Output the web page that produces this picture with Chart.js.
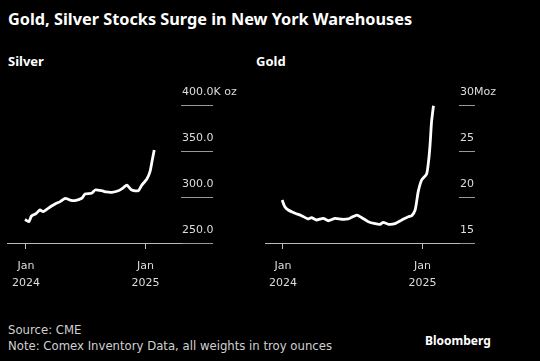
<!DOCTYPE html>
<html>
<head>
<meta charset="utf-8">
<script src="https://cdn.jsdelivr.net/npm/chart.js@4"></script>
<style>
  html, body { margin: 0; padding: 0; background: #000; }
  body { width: 540px; height: 361px; position: relative; overflow: hidden; font-family: "DejaVu Sans", sans-serif; color: #fff; }
  .title { position: absolute; left: 8px; top: 9px; font: bold 16.3px/20px "Noto Sans", sans-serif; white-space: nowrap; }
  .sub { position: absolute; top: 52px; font: bold 13px/18px "Noto Sans", sans-serif; }
  .chart { position: absolute; top: 80px; height: 215px; }
  .foot { position: absolute; left: 8px; font-size: 11.7px; line-height: 16px; color: #d0d0d0; white-space: nowrap; }
  .brand { position: absolute; left: 425px; top: 333px; font: bold 12px/16px "Noto Sans", sans-serif; color: #fff; }
</style>
</head>
<body>
<div class="title">Gold, Silver Stocks Surge in New York Warehouses</div>
<div class="sub" style="left:8px">Silver</div>
<div class="sub" style="left:256px">Gold</div>
<div class="chart" style="left:0;width:260px"><canvas id="silverChart" width="260" height="215"></canvas></div>
<div class="chart" style="left:260px;width:280px"><canvas id="goldChart" width="280" height="215"></canvas></div>
<div class="foot" style="top:322px">Source: CME</div>
<div class="foot" style="top:338px">Note: Comex Inventory Data, all weights in troy ounces</div>
<div class="brand">Bloomberg</div>

<script>
// x ticks: days since 2024-01-01
const xTicks = [0, 366];
const xTickLabels = [['Jan', '2024'], ['Jan', '2025']];

const silverDates = ['2023-12-29', '2024-01-10', '2024-01-18', '2024-02-01', '2024-02-13', '2024-02-23',
  '2024-03-09', '2024-03-30', '2024-04-15', '2024-04-30', '2024-05-15', '2024-05-30', '2024-06-20',
  '2024-06-30', '2024-07-20', '2024-07-31', '2024-08-20', '2024-09-03', '2024-09-20', '2024-10-10',
  '2024-10-25', '2024-11-05', '2024-11-20', '2024-12-10', '2024-12-21', '2025-01-05', '2025-01-15',
  '2025-01-22', '2025-01-28'];
const silverValues = [275.5, 273.2, 279.3, 282, 285.9, 284,
  287.7, 292.4, 295, 298.6, 296.7, 296, 298.6,
  303.3, 304, 307.6, 306.8, 305.5, 305.1, 306.8,
  310, 313, 307.6, 306.8, 313, 319.2, 327.5,
  340.2, 351];
const silverYTicks = [250, 300, 350, 400];
const silverYLabels = ['250.0', '300.0', '350.0', '400.0K oz'];

const goldDates = ['2023-12-30', '2024-01-06', '2024-01-15', '2024-02-02', '2024-02-19', '2024-03-07',
  '2024-03-16', '2024-03-29', '2024-04-16', '2024-04-29', '2024-05-17', '2024-06-03', '2024-06-20',
  '2024-06-29', '2024-07-13', '2024-07-26', '2024-08-12', '2024-08-30', '2024-09-12', '2024-09-20',
  '2024-10-04', '2024-10-21', '2024-11-08', '2024-11-25', '2024-12-04', '2024-12-13', '2024-12-21',
  '2024-12-30', '2025-01-12', '2025-01-17', '2025-01-21', '2025-01-25', '2025-01-30'];
const goldValues = [19.67, 18.95, 18.59, 18.23, 17.97, 17.61,
  17.75, 17.5, 17.68, 17.42, 17.68, 17.58, 17.61,
  17.79, 18.04, 17.75, 17.32, 17.1, 17.03, 17.25,
  17.03, 17.1, 17.5, 17.86, 17.97, 18.59, 20.58,
  21.85, 22.5, 23.84, 25.65, 28.18, 29.92];
const goldYTicks = [15, 20, 25, 30];
const goldYLabels = ['15', '20', '25', '30Moz'];

const BASE = Date.UTC(2024, 0, 1);
function toDay(s) {
    const [y, m, d] = s.split('-').map(Number);
    return (Date.UTC(y, m - 1, d) - BASE) / 86400000;
}

const tickFont = { family: '"DejaVu Sans", sans-serif', size: 11 };

function makeChart(id, dates, values, o) {
    const ctx = document.getElementById(id).getContext('2d');
    return new Chart(ctx, {
        type: 'line',
        data: {
            datasets: [{
                data: dates.map((d, i) => ({ x: toDay(d), y: values[i] })),
                borderColor: '#fff', borderWidth: 2.8, pointRadius: 0, tension: 0.2, fill: false
            }]
        },
        options: {
            responsive: false, animation: false, devicePixelRatio: 1,
            layout: { padding: o.padding },
            plugins: { legend: { display: false }, tooltip: { enabled: false } },
            scales: {
                x: {
                    type: 'linear', min: o.xMin, max: o.xMax,
                    afterBuildTicks: s => { s.ticks = xTicks.map(v => ({ value: v })); },
                    afterFit: s => { s.height = 50; },
                    ticks: { color: '#ddd', font: { ...tickFont, lineHeight: 1.6 }, padding: 8, maxRotation: 0, autoSkip: false,
                        callback: (v, i) => xTickLabels[i] },
                    grid: { drawOnChartArea: false, drawTicks: true, tickLength: 6, color: '#bbb' },
                    border: { display: true, color: '#bbb', width: 1 }
                },
                y: {
                    position: 'right', min: o.yTicks[0], max: o.yTicks[o.yTicks.length - 1],
                    afterBuildTicks: s => { s.ticks = o.yTicks.map(v => ({ value: v })); },
                    afterFit: s => { s.width = 70; },
                    ticks: { color: '#ddd', font: tickFont, padding: -(o.tickLen - 1), labelOffset: -13,
                        callback: (v, i) => o.yLabels[i] },
                    grid: { drawOnChartArea: false, drawTicks: true, tickLength: o.tickLen, color: '#999' },
                    border: { display: false }
                }
            }
        }
    });
}

makeChart('silverChart', silverDates, silverValues, {
    xMin: -58, xMax: 475, yTicks: silverYTicks, yLabels: silverYLabels, tickLen: 32,
    padding: { left: 7, top: 25, right: 9, bottom: 2 }
});
makeChart('goldChart', goldDates, goldValues, {
    xMin: -47, xMax: 462, yTicks: goldYTicks, yLabels: goldYLabels, tickLen: 16,
    padding: { left: 5, top: 25, right: 11, bottom: 2 }
});
</script>
</body>
</html>
